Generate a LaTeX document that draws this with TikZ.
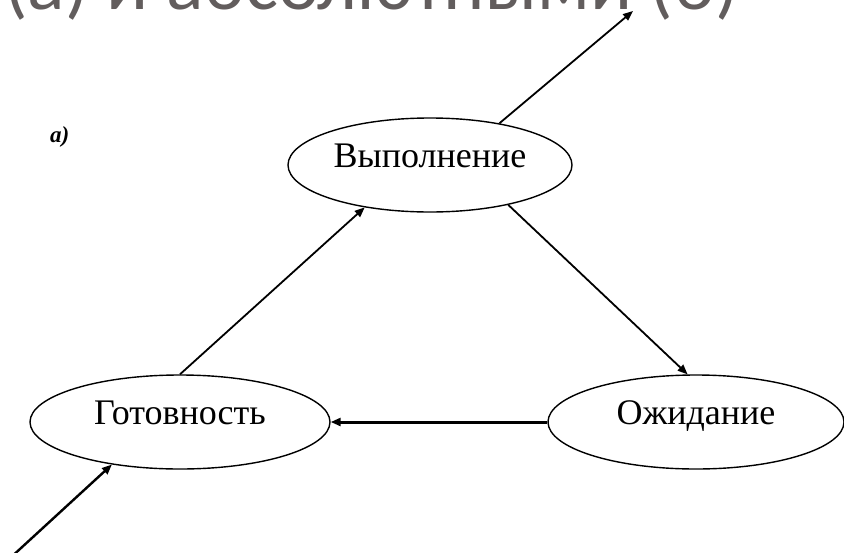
\documentclass[tikz,border=0pt]{standalone}
\usepackage{fontspec}
\setmainfont{Liberation Serif}
\newfontfamily\headfont{Carlito}
\usetikzlibrary{shapes.geometric,arrows.meta}
\definecolor{headgray}{RGB}{98,93,93}
\begin{document}
\begin{tikzpicture}[x=1pt,y=-1pt,
  state/.style={draw, ellipse, line width=1.4pt, inner sep=0pt,
    minimum width=290pt, minimum height=94pt,
    text height=0.5em, text depth=0pt,
    font=\fontsize{36}{40}\selectfont},
  flow/.style={line width=1.8pt, -{Triangle[length=10pt,width=8pt]}},
  heavy/.style={flow, line width=3pt},
]
\useasboundingbox (0,0) rectangle (844,552);
\clip (0,0) rectangle (844,552);

% heading line, partly above the frame
\node[anchor=base west, inner sep=0pt, text=headgray,
      font=\headfont\fontsize{78}{88}\selectfont] (head) at (4,9)
  {(а) и абсолютными (б)};

% panel label
\node[anchor=west, inner sep=0pt, font=\bfseries\itshape\fontsize{23}{25}\selectfont]
  (lbl) at (50,137) {а)};

% process states
\node[state, minimum width=284pt] (run)   at (430,165) {Выполнение};
\node[state, minimum width=300pt] (ready) at (180,422) {Готовность};
\node[state, minimum width=296pt] (wait)  at (696,422) {Ожидание};

% free ends of the entry and exit arrows
\coordinate (exit)  at (633,11);
\coordinate (entry) at (8,560);

% transitions
\draw[flow]  (run.31)     -- (exit);
\draw[flow]  (ready.north)-- (run.213);
\draw[flow]  (run.-27)    -- (wait.100);
\draw[heavy] (wait.west)  -- (ready.east);
\draw[flow, line width=2.4pt] (entry) -- (ready.212);
\end{tikzpicture}
\end{document}
